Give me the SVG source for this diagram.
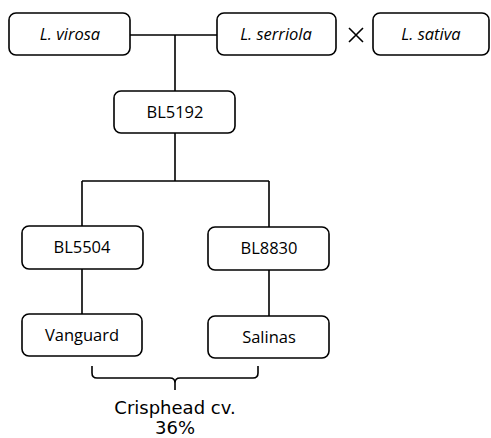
<svg xmlns="http://www.w3.org/2000/svg" width="491" height="438" viewBox="0 0 491 438">
<style>
.box{fill:#fff;stroke:#000;stroke-width:1.6}
.lbl{font-family:"Open Sans","Liberation Sans",sans-serif;font-size:16.5px;fill:#000;text-anchor:middle}
.it{font-style:italic}
.con{fill:none;stroke:#000;stroke-width:1.6}
.cap{font-family:"DejaVu Sans",Verdana,sans-serif;font-size:18px;fill:#000;text-anchor:middle}
</style>
<rect width="491" height="438" fill="#fff"/>
<g id="connectors">
<path class="con" d="M130,35 H217 M175,35 V91 M175,133 V181 M82,181 H269 M82,181 V226 M269,181 V227 M82,269 V314 M269,270 V316"/>
<path class="con" d="M92,366 V373 Q92,378 97,378 H170 Q175,378 175,383 V390 M175,383 Q175,378 180,378 H253 Q258,378 258,373 V366"/>
</g>
<g id="virosa"><rect class="box" x="9" y="13" width="121" height="42" rx="7"/><text class="lbl it" x="70" y="40">L. virosa</text></g>
<g id="serriola"><rect class="box" x="217" y="13" width="119" height="42" rx="7"/><text class="lbl it" x="276" y="40">L. serriola</text></g>
<g id="cross"><path class="con" d="M349,28 L363,42 M363,28 L349,42"/></g>
<g id="sativa"><rect class="box" x="373" y="13" width="116" height="42" rx="7"/><text class="lbl it" x="431" y="40">L. sativa</text></g>
<g id="BL5192"><rect class="box" x="114" y="91" width="121" height="42" rx="7"/><text class="lbl" x="175" y="118">BL5192</text></g>
<g id="BL5504"><rect class="box" x="22" y="226" width="121" height="43" rx="7"/><text class="lbl" x="82" y="253">BL5504</text></g>
<g id="BL8830"><rect class="box" x="208" y="227" width="121" height="43" rx="7"/><text class="lbl" x="269" y="254">BL8830</text></g>
<g id="Vanguard"><rect class="box" x="22" y="314" width="120" height="42" rx="7"/><text class="lbl" x="82" y="341">Vanguard</text></g>
<g id="Salinas"><rect class="box" x="208" y="316" width="121" height="42" rx="7"/><text class="lbl" x="269" y="343">Salinas</text></g>
<g id="caption"><text class="cap" x="175" y="414">Crisphead cv.</text><text class="cap" x="175" y="434">36%</text></g>
</svg>
